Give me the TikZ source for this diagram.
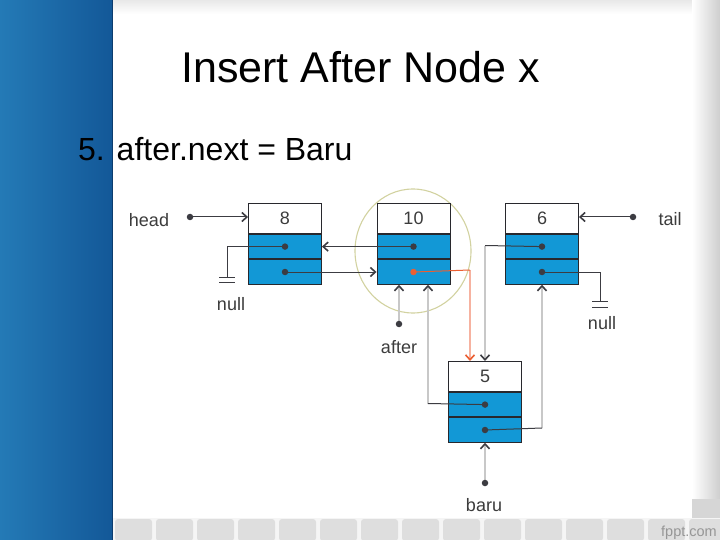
\documentclass[tikz,border=0pt]{standalone}
\usepackage{fontspec}
\setmainfont{Liberation Sans}
\usetikzlibrary{arrows.meta,shapes.geometric,calc}
\definecolor{cellblue}{RGB}{18,152,214}
\definecolor{boxc}{RGB}{40,40,45}
\definecolor{ptr}{RGB}{60,60,66}
\definecolor{vline}{RGB}{200,200,200}
\definecolor{orng}{RGB}{235,95,50}
\definecolor{lorng}{RGB}{246,178,160}
\definecolor{lbl}{RGB}{60,60,60}
\definecolor{ell}{RGB}{210,210,160}
\definecolor{bandL}{RGB}{36,122,182}
\definecolor{bandR}{RGB}{19,88,152}
\definecolor{bandE}{RGB}{12,60,110}
\definecolor{tile}{RGB}{222,222,222}
\definecolor{topsh}{RGB}{232,232,232}
\definecolor{rsh}{RGB}{206,206,206}
\definecolor{sq}{RGB}{214,214,214}
\definecolor{strip}{RGB}{245,245,245}
\definecolor{fpptc}{RGB}{150,150,150}
\begin{document}
\begin{tikzpicture}[x=1pt,y=-1pt,
  valbox/.style={draw=boxc,fill=white,minimum width=73pt,minimum height=30pt,inner sep=0pt,line width=0.9pt,font=\fontsize{18}{20}\selectfont,text=lbl},
  ptrbox/.style={draw=boxc,fill=cellblue,minimum width=73pt,minimum height=24.5pt,inner sep=0pt,line width=0.9pt},
  lab/.style={font=\fontsize{18}{20}\selectfont,text=lbl,inner sep=0pt},
  dot/.style={circle,fill=ptr,inner sep=0pt,minimum size=6.5pt},
  ptrline/.style={draw=ptr,line width=1pt},
  vl/.style={draw=vline,line width=2.6pt},
  arr/.style={-{Straight Barb[length=5pt,width=9pt,line width=1.6pt,color=ptr]}},
  oarr/.style={-{Straight Barb[length=5pt,width=9pt,line width=1.6pt,color=orng]}}
]
\useasboundingbox (0,0) rectangle (720,540);
% background
\fill[white] (0,0) rectangle (720,540);
\shade[top color=topsh,bottom color=white] (112,0) rectangle (720,14);
\shade[left color=white,right color=rsh] (692,0) rectangle (720,518);
\fill[sq] (692,499) rectangle (720,518);
\fill[strip] (112,518) rectangle (720,540);
\foreach \k in {0,...,14} {
  \fill[tile,rounded corners=3pt] (115+41*\k,519) rectangle (152+41*\k,541);
}
\shade[left color=bandL,right color=bandR] (0,0) rectangle (112,540);
\draw[bandE,line width=1pt] (112,0) -- (112,540);
\node[anchor=base east,font=\fontsize{14.5}{16}\selectfont,text=fpptc,inner sep=0pt] (fppt) at (717,536) {fppt.com};

% texts
\node[anchor=base,font=\fontsize{43}{50}\selectfont,inner sep=0pt] (title) at (360.5,83) {Insert After Node x};
\node[anchor=base west,font=\fontsize{32}{38}\selectfont,inner sep=0pt] (sub) at (78,161) {5. after.next = Baru};

% highlight ellipse
\node[ellipse,draw=ell,line width=1.1pt,minimum width=116pt,minimum height=124pt] (hl) at (413,251) {};

% nodes
\node[valbox,anchor=north] (n8) at (285,203) {8};
\node[ptrbox,anchor=north] (n8a) at (n8.south) {};
\node[ptrbox,anchor=north] (n8b) at (n8a.south) {};
\node[valbox,anchor=north] (n10) at (413.5,203) {10};
\node[ptrbox,anchor=north] (n10a) at (n10.south) {};
\node[ptrbox,anchor=north] (n10b) at (n10a.south) {};
\node[valbox,anchor=north] (n6) at (542,203) {6};
\node[ptrbox,anchor=north] (n6a) at (n6.south) {};
\node[ptrbox,anchor=north] (n6b) at (n6a.south) {};
\node[valbox,anchor=north] (n5) at (485,361) {5};
\node[ptrbox,anchor=north] (n5a) at (n5.south) {};
\node[ptrbox,anchor=north] (n5b) at (n5a.south) {};

% labels
\node[lab] (headl) at (149,220) {head};
\node[lab] (tail) at (670,219) {tail};
\node[lab] (null1) at (231,304) {null};
\node[lab] (null2) at (602,323) {null};
\node[lab] (after) at (399,347) {after};
\node[lab] (baru) at (484,505) {baru};

% dot coordinates
\coordinate (d8a) at (n8a.center);
\coordinate (d8b) at (n8b.center);
\coordinate (d10a) at (n10a.center);
\coordinate (d10b) at (n10b.center);
\coordinate (d6a) at (n6a.center);
\coordinate (d6b) at (n6b.center);
\coordinate (d5a) at (n5a.center);
\coordinate (d5b) at (n5b.center);
\coordinate (hd) at (190,217);
\coordinate (td) at (633,217);
\coordinate (ad) at (399,324);
\coordinate (bd) at (485,483);

% corner coordinates
\coordinate (g1) at (227,277);
\coordinate (g2) at (600,301);
\coordinate (c1) at (470,270);
\coordinate (c2) at (485,245.5);
\coordinate (c3) at (428,403.5);
\coordinate (c4) at (542,428);

% connectors
\draw[ptrline,arr] (hd) -- (hd -| n8.west);
\draw[ptrline,arr] (td) -- (td -| n6.east);
\draw[ptrline] (d8a) -| (g1);
\draw[ptrline] ($(g1)+(-8,0)$) -- ($(g1)+(8,0)$) ($(g1)+(-8,5)$) -- ($(g1)+(8,5)$);
\draw[ptrline,arr] (d8b) -- (n10b.west);
\draw[ptrline,arr] (d10a) -- (n8a.east);
\draw[ptrline] (d6b) -| (g2);
\draw[ptrline] ($(g2)+(-8,0)$) -- ($(g2)+(8,0)$) ($(g2)+(-8,6)$) -- ($(g2)+(8,6)$);
% after.next -> baru (orange)
\draw[lorng,line width=2.2pt,oarr] (c1) -- (c1 |- n5.north);
\draw[orng,line width=1pt] (d10b) -- (c1);
% 6 prev -> baru
\draw[vl,arr] (c2) -- (n5.north);
\draw[ptrline] (d6a) -- (c2);
% after pointer
\draw[vl,arr] (ad) -- (ad |- n10b.south);
% baru.prev -> 10
\draw[vl,arr] (c3) -- (c3 |- n10b.south);
\draw[ptrline] (d5a) -- (c3);
% baru.next -> 6
\draw[vl,arr] (c4) -- (n6b.south);
\draw[ptrline] (d5b) -- (c4);
% baru pointer
\draw[vl,arr] (bd) -- (n5b.south);

% dots on top
\foreach \p in {d8a,d8b,d10a,d6a,d6b,d5a,d5b,hd,td,ad,bd} {
  \node[dot] (dot-\p) at (\p) {};
}
\node[dot,fill=orng] (dot-d10b) at (d10b) {};
\end{tikzpicture}
\end{document}
